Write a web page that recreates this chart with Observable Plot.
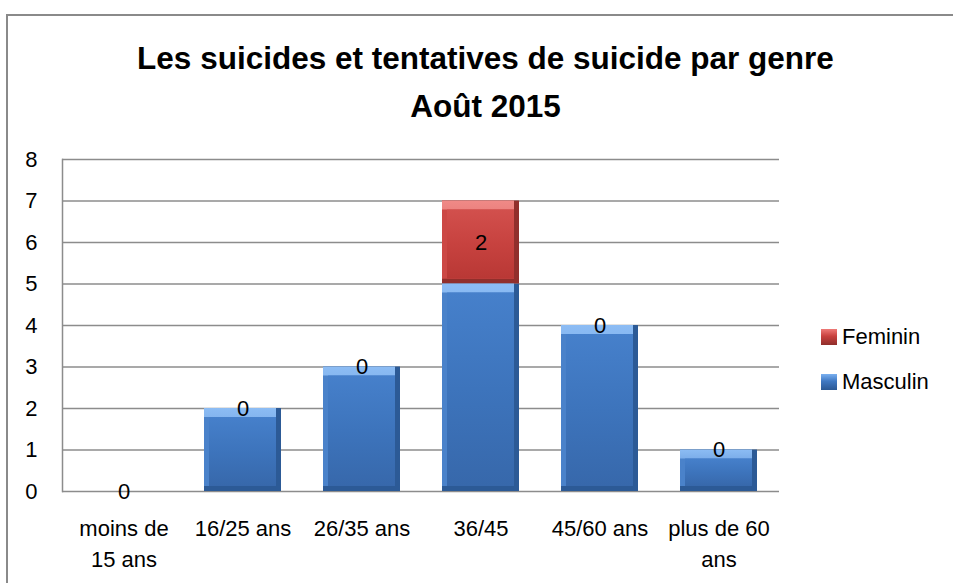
<!DOCTYPE html>
<html><head><meta charset="utf-8">
<script src="https://cdn.jsdelivr.net/npm/d3@7"></script>
<script src="https://cdn.jsdelivr.net/npm/@observablehq/plot@0.6"></script>
<style>
body{margin:0;background:#fff;}
#wrap{position:relative;width:953px;height:583px;overflow:hidden;font-family:"Liberation Sans",Arial,sans-serif;background:#fff;}
#border{position:absolute;left:6px;top:14px;width:1000px;height:1000px;border-left:2px solid #8a8a8a;border-top:2px solid #8a8a8a;}
#title{position:absolute;left:18px;width:935px;top:34px;text-align:center;font-weight:bold;font-size:31.5px;line-height:48px;color:#000;}
#chart{position:absolute;left:0;top:0;}
.leg{position:absolute;left:821px;display:flex;align-items:center;font-size:22px;color:#000;height:26px;}
.sw{width:16px;height:16px;margin-right:5px;box-sizing:border-box;}
</style>
</head><body>
<div id="wrap">
  <div id="border"></div>
  <div id="chart"></div>
  <div id="title">Les suicides et tentatives de suicide par genre<br>Août 2015</div>
  <div id="legend"></div>
</div>
<script>
const categories = ["moins de 15 ans", "16/25 ans", "26/35 ans", "36/45", "45/60 ans", "plus de 60 ans"];
const tickLabels = ["moins de\n15 ans", "16/25 ans", "26/35 ans", "36/45", "45/60 ans", "plus de 60\nans"];
const masculin = [0, 2, 3, 5, 4, 1];
const feminin = [0, 0, 0, 2, 0, 0];
const yTicks = [0, 1, 2, 3, 4, 5, 6, 7, 8];
const legendOrder = ["Feminin", "Masculin"];

const pal = {
  Masculin: {dark: "#2c5a96", top: "url(#gMascTop)", left: "#4a82ca", main: "url(#gMasc)", sw: "linear-gradient(#7ab0f0,#3f78c2 45%,#2a5894)"},
  Feminin:  {dark: "#912f2c", top: "url(#gFemTop)", left: "#cc4845", main: "url(#gFem)", sw: "linear-gradient(#ee7a77,#c8413e 45%,#8f2e2b)"}
};

const rows = categories.flatMap((c, i) => [
  {cat: c, genre: "Masculin", value: masculin[i]},
  {cat: c, genre: "Feminin", value: feminin[i]}
]);
const barRows = rows.filter(d => d.value > 0);

const side = 21;
const layer = (key, o) => Plot.barY(barRows, Plot.stackY({
  x: "cat", y: "value", fill: d => pal[d.genre][key], ...o
}));

const chart = Plot.plot({
  width: 953, height: 583,
  marginLeft: 62, marginRight: 174, marginTop: 159, marginBottom: 92,
  style: {fontFamily: "Liberation Sans, Arial, sans-serif", fontSize: "22px", color: "#000", background: "transparent", overflow: "visible"},
  x: {type: "band", domain: categories, padding: 0, label: null},
  y: {domain: [0, 8], label: null},
  color: {type: "identity"},
  marks: [
    Plot.ruleY(yTicks, {stroke: "#8c8c8c", strokeWidth: 1.5}),
    Plot.frame({anchor: "left", stroke: "#8c8c8c", strokeWidth: 1.5}),
    layer("dark", {insetLeft: side, insetRight: side}),
    layer("top", {insetLeft: side, insetRight: side + 5, insetBottom: 5}),
    layer("left", {insetLeft: side, insetRight: side + 5, insetBottom: 5, insetTop: 9}),
    layer("main", {insetLeft: side + 5, insetRight: side + 5, insetBottom: 5, insetTop: 9}),
    Plot.text(rows, Plot.stackY({
      x: "cat", y: "value",
      text: d => d.genre === "Feminin" ? String(d.value) : "",
      fontSize: 22, fill: "#000"
    })),
    Plot.axisY(yTicks, {tickSize: 0, tickPadding: 25, fontSize: 22, fill: "#000", label: null}),
    Plot.axisX({tickSize: 0, tickPadding: 22, fontSize: 22, fill: "#000", lineHeight: 1.41, label: null,
      tickFormat: d => tickLabels[categories.indexOf(d)]})
  ]
});

const svg = d3.select(chart);
const defs = svg.insert("defs", ":first-child");
const grad = (id, stops) => {
  const g = defs.append("linearGradient").attr("id", id).attr("x1", 0).attr("y1", 0).attr("x2", 0).attr("y2", 1);
  stops.forEach(([o, c]) => g.append("stop").attr("offset", o).attr("stop-color", c));
};
grad("gMasc", [["0%", "#4680cb"], ["50%", "#3d74bc"], ["100%", "#3768ab"]]);
grad("gFem", [["0%", "#d2504d"], ["50%", "#c7423f"], ["100%", "#b93835"]]);
grad("gMascTop", [["0px", "#8cbcf4"], ["100%", "#4a82ca"]]);
grad("gFemTop", [["0px", "#f08a87"], ["100%", "#cc4845"]]);
document.getElementById("chart").appendChild(chart);

const legend = document.getElementById("legend");
const legY = {Feminin: 324, Masculin: 369};
legendOrder.forEach(g => {
  const item = document.createElement("div");
  item.className = "leg";
  item.style.top = legY[g] + "px";
  const sw = document.createElement("div");
  sw.className = "sw";
  sw.style.background = pal[g].sw;
  const t = document.createElement("span");
  t.textContent = g;
  item.appendChild(sw); item.appendChild(t);
  legend.appendChild(item);
});
</script>
</body></html>
